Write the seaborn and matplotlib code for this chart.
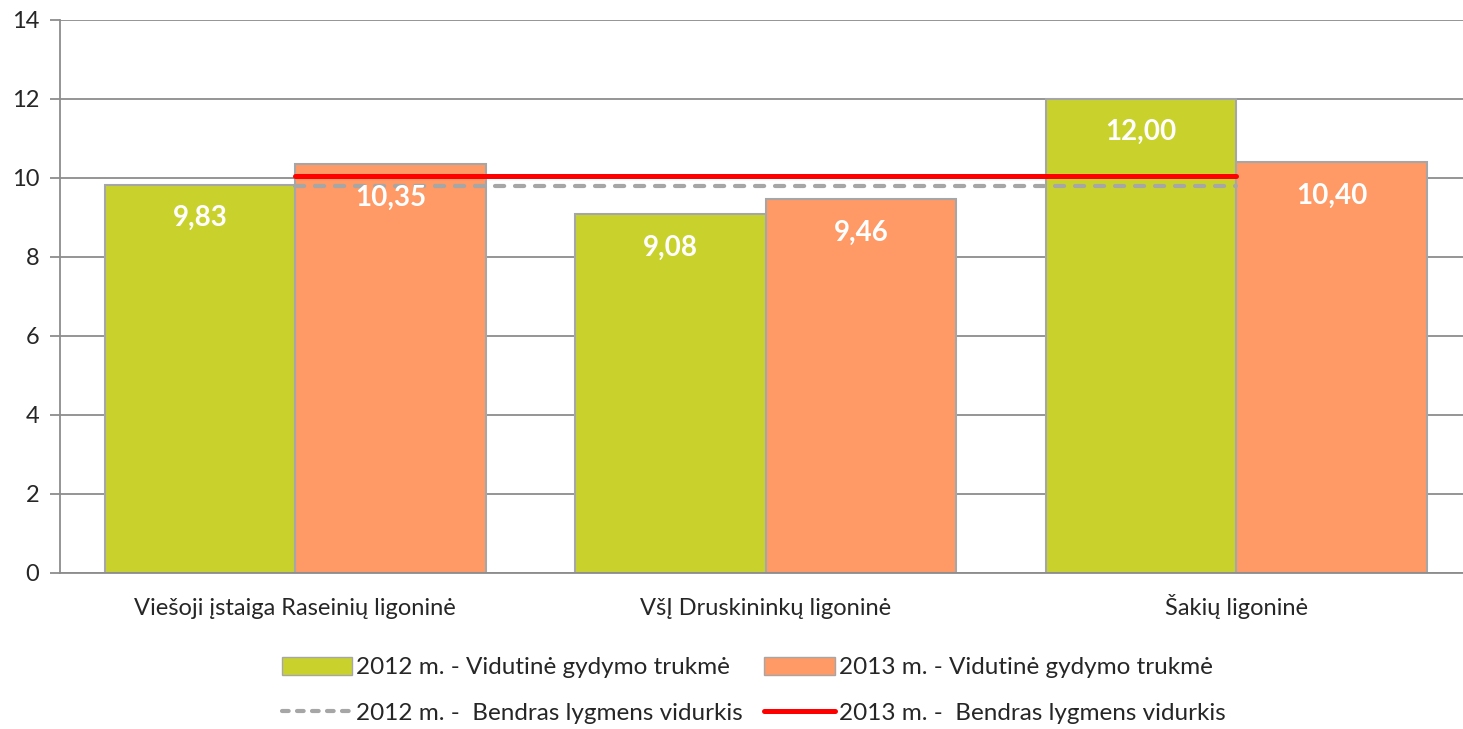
import pandas as pd
import numpy as np
import seaborn as sns
from matplotlib import pyplot as plt
from matplotlib.patches import Patch
from matplotlib.lines import Line2D

# duomenys
ligonines = ["Viešoji įstaiga Raseinių ligoninė", "VšĮ Druskininkų ligoninė", "Šakių ligoninė"]
trukme_2012 = [9.83, 9.08, 12.00]
trukme_2013 = [10.35, 9.46, 10.40]
vidurkis_2012 = [9.80, 9.80, 9.80]
vidurkis_2013 = [10.05, 10.05, 10.05]
serijos = ["2012 m. - Vidutinė gydymo trukmė", "2013 m. - Vidutinė gydymo trukmė"]
linijos = ["2012 m. -  Bendras lygmens vidurkis", "2013 m. -  Bendras lygmens vidurkis"]

df = pd.DataFrame({
    "ligonine": ligonines * 2,
    "serija": [serijos[0]] * 3 + [serijos[1]] * 3,
    "trukme": trukme_2012 + trukme_2013,
})

sns.set_style('white')
plt.rcParams['font.family'] = ['Lato', 'DejaVu Sans']

spalvos = ["#C9D22D", "#FF9966"]
pilka = "#8C8C8C"

fig = plt.figure(figsize=(14.63, 7.29), dpi=100)
ax = fig.add_axes([0.041, 0.214, 0.965, 0.7586])

sns.barplot(data=df, x="ligonine", y="trukme", hue="serija", palette=spalvos,
            saturation=1, width=0.81, edgecolor="#A6A6A6", linewidth=1.5, ax=ax,
            legend=False, zorder=2)

x = np.arange(len(ligonines))
ax.plot(x, vidurkis_2012, color="#A6A6A6", lw=3, ls=(0, (2.2, 2.6)),
        dash_capstyle='round', zorder=3)
ax.plot(x, vidurkis_2013, color="#FF0000", lw=3.6, solid_capstyle='round', zorder=3)

for cont in ax.containers:
    for bar in cont:
        h = bar.get_height()
        ax.annotate(f"{h:.2f}".replace(".", ","),
                    (bar.get_x() + bar.get_width() / 2, h),
                    xytext=(0, -24), textcoords='offset points',
                    ha='center', va='center', color='white',
                    fontsize=20, fontweight='bold', zorder=4)

ax.set_ylim(0, 14)
ax.set_xlim(-0.5, 2.5)
ax.set_yticks(np.arange(0, 15, 2))
ax.yaxis.grid(True, color=pilka, lw=1.3, zorder=0)
ax.set_axisbelow(True)
ax.set_xlabel("")
ax.set_ylabel("")
ax.set_xticks([0, 1, 2])
ax.set_xticklabels(ligonines, va='baseline')
ax.set_xticks([-0.5, 0.5, 1.5, 2.5], minor=True)
ax.tick_params(axis='x', which='major', length=0, pad=30, labelsize=17)
ax.tick_params(axis='x', which='minor', length=7, width=1.3, color=pilka, direction='out')
ax.tick_params(axis='y', length=7, width=1.3, color=pilka, labelsize=17, pad=8, left=True)
for s in ['top', 'right']:
    ax.spines[s].set_visible(False)
ax.spines['left'].set_color(pilka)
ax.spines['left'].set_linewidth(1.3)
ax.spines['bottom'].set_color(pilka)
ax.spines['bottom'].set_linewidth(1.3)

rankenos = [
    Patch(facecolor=spalvos[0], edgecolor="#A6A6A6"),
    Line2D([0], [0], color="#A6A6A6", lw=3, ls=(0, (1.6, 2.0)), dash_capstyle='round'),
    Patch(facecolor=spalvos[1], edgecolor="#A6A6A6"),
    Line2D([0], [0], color="#FF0000", lw=3.6),
]
etiketes = [serijos[0], linijos[0], serijos[1], linijos[1]]
fig.legend(rankenos, etiketes, loc='center', bbox_to_anchor=(0.515, 0.053), ncol=2,
           frameon=False, fontsize=17.5, handlelength=2.9, handleheight=0.75,
           handletextpad=0.15, columnspacing=0.9, labelspacing=1.0)

plt.savefig("out.png", dpi=100)
